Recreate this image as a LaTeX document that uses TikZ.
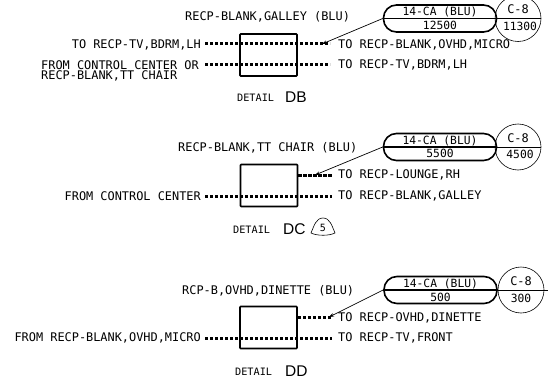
\documentclass[tikz,border=0pt]{standalone}
\usepackage{fontspec}
\usetikzlibrary{arrows.meta}
\setmainfont{DejaVu Sans Mono}
\newfontfamily\thinsans{Liberation Sans}
\tikzset{x=1pt,y=-1pt,
 lbl/.style={inner sep=0pt,font=\fontsize{11.9}{11.9}\selectfont,anchor=west},
 lblr/.style={lbl,anchor=east},
 two/.style={lbl,align=left,font=\fontsize{11.9}{10.5}\selectfont},
 small/.style={inner sep=0pt,font=\fontsize{11.3}{11.3}\selectfont},
 wire/.style={draw=black,line width=3pt,line cap=butt,dash pattern=on 3.4pt off 1.6pt},
 boxn/.style={draw,line width=1.6pt,rounded corners=0.8pt,minimum width=57pt,minimum height=42pt,inner sep=0pt},
 pill/.style={draw,line width=1.6pt,rounded corners=13pt,minimum width=113pt,minimum height=27pt,inner sep=0pt},
 ring/.style={draw,circle,line width=0.6pt,minimum size=46pt,inner sep=0pt},
 leader/.style={line width=0.7pt},
 tip/.style={-{Stealth[length=5pt,width=3.5pt]}},
 detl/.style={inner sep=0pt,anchor=base west,font=\fontsize{10.2}{10.2}\selectfont},
 detb/.style={inner sep=0pt,anchor=base west,font=\thinsans\fontsize{15.5}{15.5}\selectfont},
}
\begin{document}
\begin{tikzpicture}
\useasboundingbox (0,0) rectangle (548,385);
% DB
\node[boxn] (b1) at (268.5,55) {};
\node[pill] (p1) at (440,18.5) {};
\node[ring] (r1) at (518,18.5) {};
\coordinate (b1la) at (205,44); \coordinate (b1ra) at (330,44);
\coordinate (b1lb) at (205,65); \coordinate (b1rb) at (330,65);
\coordinate (b1t) at (322,44);
\path[wire] (b1la) -- (b1ra);
\path[wire] (b1lb) -- (b1rb);
\draw[line width=1.4pt] (p1.west) -- (p1.east);
\draw[leader] (r1.west) -- (r1.east);
\draw[leader,tip] (p1.west) -- (b1t);
\node[small] (p1a) at (440,11.5) {14-CA (BLU)};
\node[small] (p1b) at (440,25) {12500};
\node[lbl] (r1a) at (518,9.5) [anchor=center] {C-8};
\node[small] (r1b) at (520,26) {11300};
\node[lbl] (t1) at (185,17) {RECP-BLANK,GALLEY (BLU)};
\node[lblr] (t2) at (201,44.5) {TO RECP-TV,BDRM,LH};
\node[two] (t3) at (41,71) {FROM CONTROL CENTER OR\\RECP-BLANK,TT CHAIR};
\node[lbl] (t5) at (338,45) {TO RECP-BLANK,OVHD,MICRO};
\node[lbl] (t6) at (338,65) {TO RECP-TV,BDRM,LH};
\node[detl] (d1) at (237,102) {DETAIL};
\node[detb] (d1b) at (285,102.5) {DB};
% DC
\node[boxn] (b2) at (269,185.5) {};
\node[pill] (p2) at (440,147) {};
\node[ring] (r2) at (518,147) {};
\coordinate (b2ra) at (332,175); \coordinate (b2la) at (205,196); \coordinate (b2rb) at (332,196);
\coordinate (b2t) at (315,175);
\path[wire] (b2.east |- b2ra) -- (b2ra);
\path[wire] (b2la) -- (b2rb);
\draw[line width=1.4pt] (p2.west) -- (p2.east);
\draw[leader] (r2.west) -- (r2.east);
\draw[leader,tip] (p2.west) -- (b2t);
\node[small] (p2a) at (440,140.5) {14-CA (BLU)};
\node[small] (p2b) at (440,153.5) {5500};
\node[lbl] (r2a) at (518,138.5) [anchor=center] {C-8};
\node[small] (r2b) at (520,154.5) {4500};
\node[lbl] (t7) at (178,148) {RECP-BLANK,TT CHAIR (BLU)};
\node[lbl] (t8) at (338,175) {TO RECP-LOUNGE,RH};
\node[lblr] (t9) at (201,196) {FROM CONTROL CENTER};
\node[lbl] (t10) at (338,196) {TO RECP-BLANK,GALLEY};
\node[detl] (d2) at (233,233.5) {DETAIL};
\node[detb] (d2b) at (283,234) {DC};
\draw[line width=0.6pt] (311,233) .. controls (314,226) and (316,218) .. (323,218) .. controls (330,218) and (332,226) .. (335,233) .. controls (329,236) and (317,236) .. (311,233) -- cycle;
\node[inner sep=0pt,font=\fontsize{10}{10}\selectfont] (d2c) at (323,228) {5};
% DD
\node[boxn] (b3) at (268.5,327.5) {};
\node[pill] (p3) at (440.5,290) {};
\node[ring] (r3) at (521,290) {};
\coordinate (b3ra) at (332,317); \coordinate (b3la) at (205,338); \coordinate (b3rb) at (332,338);
\coordinate (b3t) at (329,317);
\coordinate (r3e) at (548,290);
\path[wire] (b3.east |- b3ra) -- (b3ra);
\path[wire] (b3la) -- (b3rb);
\draw[line width=1.4pt] (p3.west) -- (p3.east);
\draw[leader] (r3.west) -- (r3e);
\draw[leader,tip] (p3.west) -- (b3t);
\node[small] (p3a) at (440.5,283.5) {14-CA (BLU)};
\node[small] (p3b) at (440.5,297) {500};
\node[lbl] (r3a) at (521,281.5) [anchor=center] {C-8};
\node[small] (r3b) at (521,298) {300};
\node[lbl] (t11) at (182,290.5) {RCP-B,OVHD,DINETTE (BLU)};
\node[lbl] (t12) at (338,318) {TO RECP-OVHD,DINETTE};
\node[lblr] (t13) at (201,338) {FROM RECP-BLANK,OVHD,MICRO};
\node[lbl] (t14) at (338,338) {TO RECP-TV,FRONT};
\node[detl] (d3) at (235,375) {DETAIL};
\node[detb] (d3b) at (285,376.5) {DD};
\end{tikzpicture}
\end{document}
